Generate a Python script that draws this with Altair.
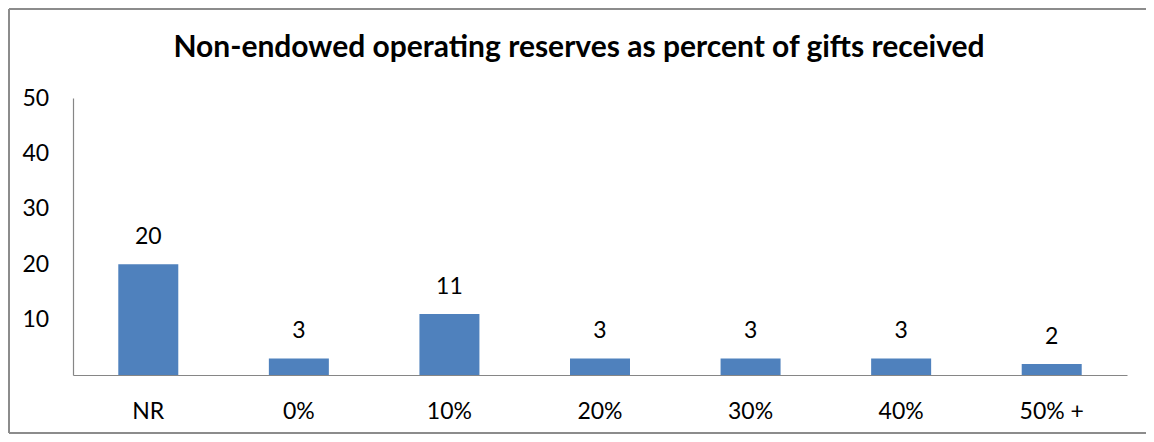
import altair as alt
import pandas as pd

categories = ["NR", "0%", "10%", "20%", "30%", "40%", "50% +"]
counts = [20, 3, 11, 3, 3, 3, 2]
y_ticks = [10, 20, 30, 40, 50]
title_text = "Non-endowed operating reserves as percent of gifts received"

df = pd.DataFrame({"cat": categories, "n": counts})

W, H = 1054, 277
PL, PT, PR, PB = 65, 90, 19, 59
FONT = "Lato"

x_enc = alt.X("cat:N", sort=categories, title=None,
              scale=alt.Scale(paddingInner=0, paddingOuter=0),
              axis=alt.Axis(labelAngle=0, ticks=False, tickSize=0, labelPadding=36,
                            labelBaseline="middle", labelFont=FONT, labelFontSize=23,
                            labelColor="#000000", domainColor="#868686", domainWidth=1.2,
                            grid=False))
y_enc = alt.Y("n:Q", title=None,
              scale=alt.Scale(domain=[0, 50], nice=False),
              axis=alt.Axis(values=y_ticks, ticks=False, tickSize=0, labelPadding=51,
                            labelAlign="left", labelBaseline="middle", labelFont=FONT,
                            labelFontSize=23, labelColor="#000000",
                            domainColor="#868686", domainWidth=1.2, grid=False))

base = alt.Chart(df)
bars = base.mark_bar(size=60, color="#4f81bd").encode(x=x_enc, y=y_enc)
labels = base.mark_text(dy=-27, baseline="middle", align="center", font=FONT,
                        fontSize=23, color="#000000").encode(
    x=alt.X("cat:N", sort=categories), y="n:Q", text="n:Q")

one = alt.Chart(pd.DataFrame({"t": [title_text]}))
title = one.mark_text(font=FONT, fontSize=30, fontWeight="bold", color="#000000",
                      align="center", baseline="middle").encode(
    x=alt.value(506), y=alt.value(-50), text="t:N")

border_color = "#8c8c8c"
top_line = one.mark_rule(color=border_color, strokeWidth=2).encode(
    x=alt.value(-PL + 1), x2=alt.value(W + PR), y=alt.value(-PT + 1))
left_line = one.mark_rule(color=border_color, strokeWidth=2).encode(
    x=alt.value(-PL + 1), y=alt.value(-PT + 1), y2=alt.value(H + PB - 1))
bottom_line = one.mark_rule(color=border_color, strokeWidth=2).encode(
    x=alt.value(-PL + 1), x2=alt.value(W + PR), y=alt.value(H + PB - 1))

chart = alt.layer(bars, labels, title, top_line, left_line, bottom_line).properties(
    width=W, height=H,
    padding={"left": PL, "top": PT, "right": PR, "bottom": PB},
    autosize=alt.AutoSizeParams(type="none"),
    background="#ffffff",
).configure_view(stroke=None)

chart.save("out.html", embed_options={"renderer": "svg", "actions": False})
